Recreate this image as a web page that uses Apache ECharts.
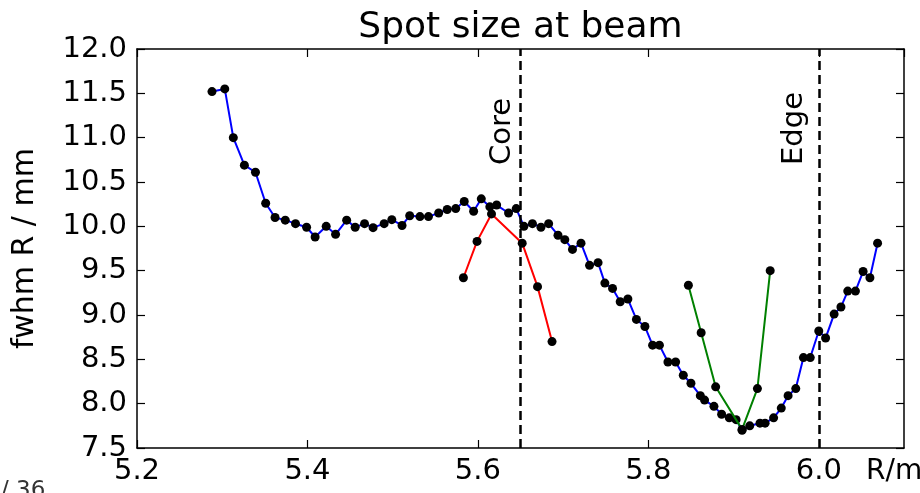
<!DOCTYPE html>
<html>
<head>
<meta charset="utf-8">
<script src="https://cdn.jsdelivr.net/npm/echarts@6/dist/echarts.min.js"></script>
<style>
  html, body { margin: 0; padding: 0; background: #fff; }
  #main { width: 920px; height: 493px; }
</style>
</head>
<body>
<div id="main"></div>
<script>
// spot size scan, blue line
var scanR = [5.288, 5.303, 5.313, 5.326, 5.339, 5.351, 5.362, 5.374, 5.386, 5.399,
  5.409, 5.422, 5.433, 5.446, 5.456, 5.467, 5.477, 5.490, 5.499, 5.511,
  5.520, 5.532, 5.542, 5.554, 5.564, 5.574, 5.584, 5.595, 5.604, 5.614,
  5.622, 5.636, 5.645, 5.654, 5.664, 5.674, 5.683, 5.694, 5.702, 5.711,
  5.721, 5.731, 5.741, 5.749, 5.758, 5.767, 5.776, 5.786, 5.796, 5.805,
  5.813, 5.823, 5.832, 5.841, 5.850, 5.861, 5.866, 5.877, 5.886, 5.895,
  5.903, 5.910, 5.919, 5.931, 5.937, 5.947, 5.956, 5.964, 5.973, 5.982,
  5.990, 6.000, 6.008, 6.018, 6.026, 6.034, 6.043, 6.052, 6.060, 6.069];
var scanFwhm = [11.52, 11.55, 11.00, 10.69, 10.61, 10.26, 10.10, 10.07, 10.03, 9.99,
  9.88, 10.00, 9.91, 10.07, 9.99, 10.03, 9.985, 10.03, 10.075, 10.01,
  10.12, 10.11, 10.11, 10.15, 10.19, 10.20, 10.28, 10.17, 10.31, 10.22,
  10.24, 10.15, 10.20, 10.00, 10.03, 9.99, 10.03, 9.90, 9.85, 9.74,
  9.81, 9.56, 9.59, 9.36, 9.30, 9.15, 9.18, 8.95, 8.87, 8.66,
  8.66, 8.47, 8.47, 8.32, 8.23, 8.09, 8.04, 7.97, 7.88, 7.84,
  7.82, 7.70, 7.75, 7.78, 7.78, 7.84, 7.95, 8.09, 8.17, 8.52,
  8.52, 8.82, 8.74, 9.01, 9.09, 9.27, 9.27, 9.49, 9.42, 9.81];

// red branch
var redR = [5.583, 5.599, 5.616, 5.652, 5.670, 5.687];
var redFwhm = [9.42, 9.83, 10.14, 9.81, 9.32, 8.70];

// green branch
var greenR = [5.847, 5.862, 5.879, 5.910, 5.928, 5.943];
var greenFwhm = [9.335, 8.80, 8.19, 7.71, 8.17, 9.50];

var coreR = 5.652;
var edgeR = 6.0;

function pairs(xs, ys) {
  return xs.map(function (x, i) { return [x, ys[i]]; });
}

var myChart = echarts.init(document.getElementById('main'));

var font = 'DejaVu Sans';

var xBase = {
  type: 'value',
  min: 5.2,
  max: 6.1,
  interval: 0.2,
  axisLine: { lineStyle: { color: '#000', width: 1.5 } },
  axisTick: { inside: true, length: 8, lineStyle: { color: '#000', width: 1.2 } },
  splitLine: { show: false }
};
var yBase = {
  type: 'value',
  min: 7.5,
  max: 12,
  interval: 0.5,
  axisLine: { show: true, lineStyle: { color: '#000', width: 1.5 } },
  axisTick: { show: true, inside: true, length: 8, lineStyle: { color: '#000', width: 1.2 } },
  splitLine: { show: false }
};

var option = {
  animation: false,
  backgroundColor: '#fff',
  textStyle: { fontFamily: font },
  grid: { left: 137, right: 16, top: 49, bottom: 45, containLabel: false, outerBoundsMode: 'none' },
  graphic: [{
    type: 'text', left: 1, top: 480,
    style: { text: '/ 36', fontFamily: font, fontSize: 23, fill: '#333' }
  }],
  xAxis: [
    Object.assign({}, xBase, {
      position: 'bottom',
      name: 'R/m',
      nameLocation: 'end',
      nameGap: -38,
      nameTextStyle: { fontSize: 28, color: '#000', align: 'left', verticalAlign: 'top', padding: [10, 0, 0, 0] },
      axisLabel: {
        fontSize: 29, color: '#000', margin: 9, showMaxLabel: false,
        formatter: function (v) { return v.toFixed(1); }
      }
    }),
    Object.assign({}, xBase, {
      position: 'top',
      name: 'Spot size at beam',
      nameLocation: 'middle',
      nameGap: 3,
      nameTextStyle: { fontSize: 36, color: '#000' },
      axisLabel: { show: false }
    })
  ],
  yAxis: [
    Object.assign({}, yBase, {
      position: 'left',
      name: 'fwhm R / mm',
      nameLocation: 'middle',
      nameGap: 97,
      nameTextStyle: { fontSize: 30, color: '#000' },
      axisLabel: {
        fontSize: 29, color: '#000', margin: 10,
        formatter: function (v) { return v.toFixed(1); }
      }
    }),
    Object.assign({}, yBase, {
      position: 'right',
      axisLabel: { show: false }
    })
  ],
  series: [
    {
      name: 'scan',
      type: 'line',
      data: pairs(scanR, scanFwhm),
      symbol: 'circle',
      symbolSize: 9,
      itemStyle: { color: '#000' },
      lineStyle: { color: '#0000ff', width: 2 },
      z: 3,
      markLine: {
        silent: true,
        symbol: 'none',
        lineStyle: { color: '#000', type: [9, 5], width: 2.5 },
        label: {
          show: true,
          position: 'insideStartTop',
          fontSize: 29,
          color: '#000',
          fontFamily: font,
          formatter: function (p) { return p.name; }
        },
        data: [
          { name: 'Core', xAxis: coreR, label: { distance: [283, 4] } },
          { name: 'Edge', xAxis: edgeR, label: { distance: [283, 10] } }
        ]
      }
    },
    {
      name: 'core',
      type: 'line',
      data: pairs(redR, redFwhm),
      symbol: 'circle',
      symbolSize: 9,
      itemStyle: { color: '#000' },
      lineStyle: { color: '#ff0000', width: 2 },
      z: 4
    },
    {
      name: 'edge',
      type: 'line',
      data: pairs(greenR, greenFwhm),
      symbol: 'circle',
      symbolSize: 9,
      itemStyle: { color: '#000' },
      lineStyle: { color: '#008000', width: 2 },
      z: 4
    }
  ]
};

myChart.setOption(option);
</script>
</body>
</html>
